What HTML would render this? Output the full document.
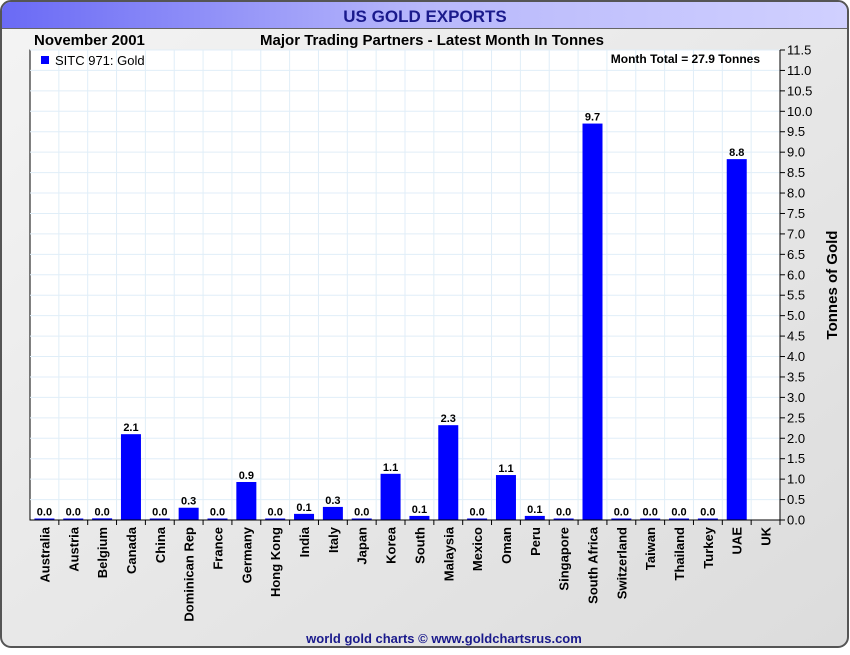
<!DOCTYPE html>
<html><head><meta charset="utf-8"><style>
body{margin:0;background:#fff;font-family:"Liberation Sans",sans-serif}
</style></head><body>
<svg id="c" width="850" height="650" xmlns="http://www.w3.org/2000/svg" font-family="Liberation Sans, sans-serif">
<defs>
<linearGradient id="tg" x1="0" x2="1"><stop offset="0" stop-color="#6a6af5"/><stop offset="0.5" stop-color="#b8b8fb"/><stop offset="1" stop-color="#d0d0ff"/></linearGradient>
<linearGradient id="bg" x1="0" y1="0" x2="1" y2="1"><stop offset="0" stop-color="#f4f4f4"/><stop offset="1" stop-color="#dcdcdc"/></linearGradient>
</defs>
<rect x="1" y="1" width="847" height="646" rx="10" fill="url(#bg)" stroke="#555" stroke-width="2"/>
<path d="M2,28 V11 a9,9 0 0 1 9,-9 H838 a9,9 0 0 1 9,9 V28 Z" fill="url(#tg)"/>
<line x1="2" y1="28.5" x2="847" y2="28.5" stroke="#666"/>
<text x="425" y="22" text-anchor="middle" font-size="17" font-weight="bold" fill="#1a1a8c">US GOLD EXPORTS</text>
<text x="34" y="45" font-size="15" font-weight="bold">November 2001</text>
<text x="432" y="45" text-anchor="middle" font-size="15" font-weight="bold">Major Trading Partners - Latest Month In Tonnes</text>
<rect x="30" y="50" width="750" height="470" fill="#fff" stroke="#000"/>
<g id="grid"></g>
<g id="bars"></g>
<g id="axes"></g>
<rect x="41" y="56" width="8" height="8" fill="#0000ff"/>
<text x="55" y="65" font-size="13">SITC 971: Gold</text>
<text x="760" y="63" text-anchor="end" font-size="12" font-weight="bold">Month Total = 27.9 Tonnes</text>
<text transform="translate(837,285) rotate(-90)" text-anchor="middle" font-size="15" font-weight="bold">Tonnes of Gold</text>
<text x="444" y="643" text-anchor="middle" font-size="13" font-weight="bold" fill="#1a1a8c">world gold charts © www.goldchartsrus.com</text>
</svg>
<script>
const categories=["Australia","Austria","Belgium","Canada","China","Dominican Rep","France","Germany","Hong Kong","India","Italy","Japan","Korea","South","Malaysia","Mexico","Oman","Peru","Singapore","South Africa","Switzerland","Taiwan","Thailand","Turkey","UAE","UK"];
const values=[0,0,0.04,2.1,0,0.3,0,0.93,0,0.15,0.32,0,1.13,0.1,2.32,0,1.1,0.1,0,9.7,0.02,0,0,0.02,8.83,null];
const yTicks=[0,0.5,1,1.5,2,2.5,3,3.5,4,4.5,5,5.5,6,6.5,7,7.5,8,8.5,9,9.5,10,10.5,11,11.5];
const NS="http://www.w3.org/2000/svg";
const L=30,R=780,T=50,B=520,YMAX=11.5;
const n=categories.length;
const bw=(R-L)/n;
const y=v=>B-(v/YMAX)*(B-T);
const x=i=>L+bw*(i+0.5);
function mk(t,a,p){const e=document.createElementNS(NS,t);for(const k in a)e.setAttribute(k,a[k]);p.appendChild(e);return e;}
const grid=document.getElementById('grid'),bars=document.getElementById('bars'),axes=document.getElementById('axes');
yTicks.forEach(t=>{
 const g=mk('line',{x1:L,x2:R,y1:y(t),y2:y(t),stroke:'#e0eef8'},grid);
 
 
 const tk=mk('line',{x1:R,x2:R+5,y1:y(t),y2:y(t),stroke:'#000'},axes);
 
 
 const lb=mk('text',{x:R+7,y:y(t)+4.5,'font-size':'13'},axes);
 lb.textContent=t.toFixed(1);
 
 
});
categories.forEach((c,i)=>{
 if(i<n-1){
 const g=mk('line',{x1:L+bw*(i+1),x2:L+bw*(i+1),y1:T,y2:B,stroke:'#e0eef8'},grid);
 
 
 }
 const tk=mk('line',{x1:L+bw*(i+1),x2:L+bw*(i+1),y1:B,y2:B+5,stroke:'#000'},axes);
 
 
 const lb=mk('text',{transform:`translate(${x(i)+5},${B+7}) rotate(-90)`,'text-anchor':'end','font-size':'13','font-weight':'bold'},axes);
 lb.textContent=c;
 
 
 const v=values[i];
 if(v===null)return;
 const h=Math.max(B-y(v),1.5);
 const r=mk('rect',{x:x(i)-10,y:B-h,width:20,height:h,fill:'#0000ff'},bars);
 
 
 const vl=mk('text',{x:x(i),y:B-h-3,'text-anchor':'middle','font-size':'11','font-weight':'bold'},bars);
 vl.textContent=v.toFixed(1);
 
 
});
const ax=mk('line',{x1:L,x2:R,y1:B,y2:B,stroke:'#000'},axes);


const ay=mk('line',{x1:R,x2:R,y1:T,y2:B,stroke:'#000'},axes);


</script>
</body></html>
